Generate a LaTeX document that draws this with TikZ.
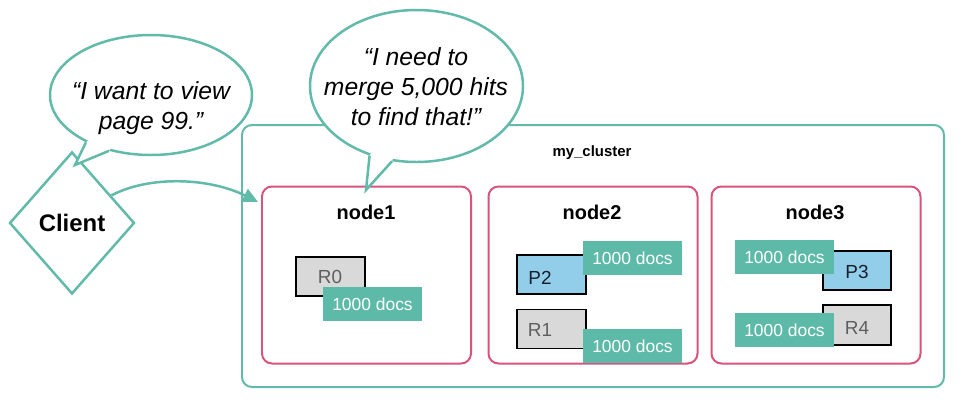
\documentclass[tikz,border=0pt]{standalone}
\usepackage{fontspec}
\setmainfont{Liberation Sans}
\usetikzlibrary{shapes.geometric,arrows.meta}
\definecolor{tealline}{RGB}{98,186,170}
\definecolor{tealfill}{RGB}{94,186,168}
\definecolor{pinkline}{RGB}{216,84,122}
\definecolor{blueshard}{RGB}{146,205,234}
\definecolor{grayshard}{RGB}{217,217,217}
\definecolor{graytext}{RGB}{95,95,95}
\definecolor{darktext}{RGB}{25,30,45}
\tikzset{
  clusterbox/.style={draw=tealline, line width=2pt, rounded corners=10bp, minimum width=702bp, minimum height=262bp, inner sep=0pt},
  esnode/.style={draw=pinkline, line width=2pt, rounded corners=10bp, minimum width=209bp, minimum height=177bp, inner sep=0pt},
  nodelabel/.style={font=\fontsize{20}{24}\selectfont\bfseries, inner sep=0pt},
  shardbox/.style={draw=black, line width=1.8pt, minimum width=69bp, minimum height=39bp, inner sep=0pt},
  primary/.style={shardbox, fill=blueshard},
  replica/.style={shardbox, fill=grayshard},
  primtext/.style={font=\fontsize{19}{22}\selectfont, text=darktext, inner sep=0pt},
  reptext/.style={font=\fontsize{19}{22}\selectfont, text=graytext, inner sep=0pt},
  docsbox/.style={fill=tealfill, text=white, minimum width=99bp, minimum height=34bp, inner sep=0pt, font=\fontsize{17.5}{20}\selectfont},
  bubble/.style={ellipse, draw=tealline, line width=2.5pt, fill=white, inner sep=0pt},
  quote/.style={font=\fontsize{24.8}{30}\selectfont\itshape, align=center, inner sep=0pt},
  tailline/.style={draw=tealline, line width=2.5pt, line join=miter},
}
\begin{document}
\begin{tikzpicture}[x=1bp,y=-1bp]
\useasboundingbox (0,0) rectangle (969,410);
\fill[white] (0,0) rectangle (969,410);

% cluster
\node[clusterbox] (cluster) at (593,256) {};
\node[font=\fontsize{15}{18}\selectfont\bfseries, inner sep=0pt] (clusterlabel) at (592,153) {my\_cluster};

% speech bubbles
\node[bubble, minimum width=202bp, minimum height=120bp] (bub1) at (151,95) {};
\node[bubble, minimum width=213bp, minimum height=152bp] (bub2) at (416.5,86) {};

% ES nodes
\node[esnode] (nb1) at (366.5,275) {};
\node[esnode] (nb2) at (593,275) {};
\node[esnode] (nb3) at (816,275) {};
\node[nodelabel] (l1) at (366,212) {node1};
\node[nodelabel] (l2) at (592,212) {node2};
\node[nodelabel] (l3) at (815,212) {node3};

% tail of bubble 2
\coordinate (tip2) at (366,190);
\fill[white] (bub2.236.8) -- (tip2) -- (bub2.252.2) -- (bub2.center) -- cycle;
\draw[tailline] (bub2.236.8) -- (tip2) -- (bub2.252.2);

% shards node1
\node[replica] (r0) at (330.5,276.5) {};
\node[reptext] (r0t) at (330,277) {R0};
\node[docsbox] (d1) at (372.5,304) {1000 docs};

% shards node2
\node[primary] (p2) at (551.5,274.5) {};
\node[primtext] (p2t) at (540,278) {P2};
\node[docsbox] (d2a) at (632.5,258) {1000 docs};
\node[replica] (r1) at (551.5,329) {};
\node[reptext] (r1t) at (540,330) {R1};
\node[docsbox] (d2b) at (632.5,346) {1000 docs};

% shards node3
\node[primary, minimum width=68bp] (p3) at (857,270.5) {};
\node[primtext] (p3t) at (857,272) {P3};
\node[docsbox] (d3a) at (784.5,257) {1000 docs};
\node[replica, minimum width=68bp, minimum height=40bp] (r4) at (857,325) {};
\node[reptext] (r4t) at (857,328) {R4};
\node[docsbox] (d3b) at (784.5,330) {1000 docs};

% client
\node[diamond, draw=tealline, line width=2.5pt, fill=white, minimum width=125bp, minimum height=142bp, inner sep=0pt, font=\fontsize{24}{27}\selectfont\bfseries] (client) at (72,223) {Client};

% arrow client -> node1
\coordinate (aend) at (258,202);
\draw[tealline, line width=2.5pt, -{Triangle[length=15bp,width=14bp]}] (client.35) .. controls (150,175) and (210,178) .. (aend);

% tail of bubble 1
\coordinate (tip1) at (75,165);
\fill[white] (bub1.216.7) -- (tip1) -- (bub1.233.3) -- (bub1.center) -- cycle;
\draw[tailline] (bub1.216.7) -- (tip1) -- (bub1.233.3);

% quotes
\node[quote] (q1) at (151,108) {“I want to view\\page 99.”};
\node[quote] (q2) at (416,87) {“I need to\\merge 5,000 hits\\to find that!”};
\end{tikzpicture}
\end{document}
